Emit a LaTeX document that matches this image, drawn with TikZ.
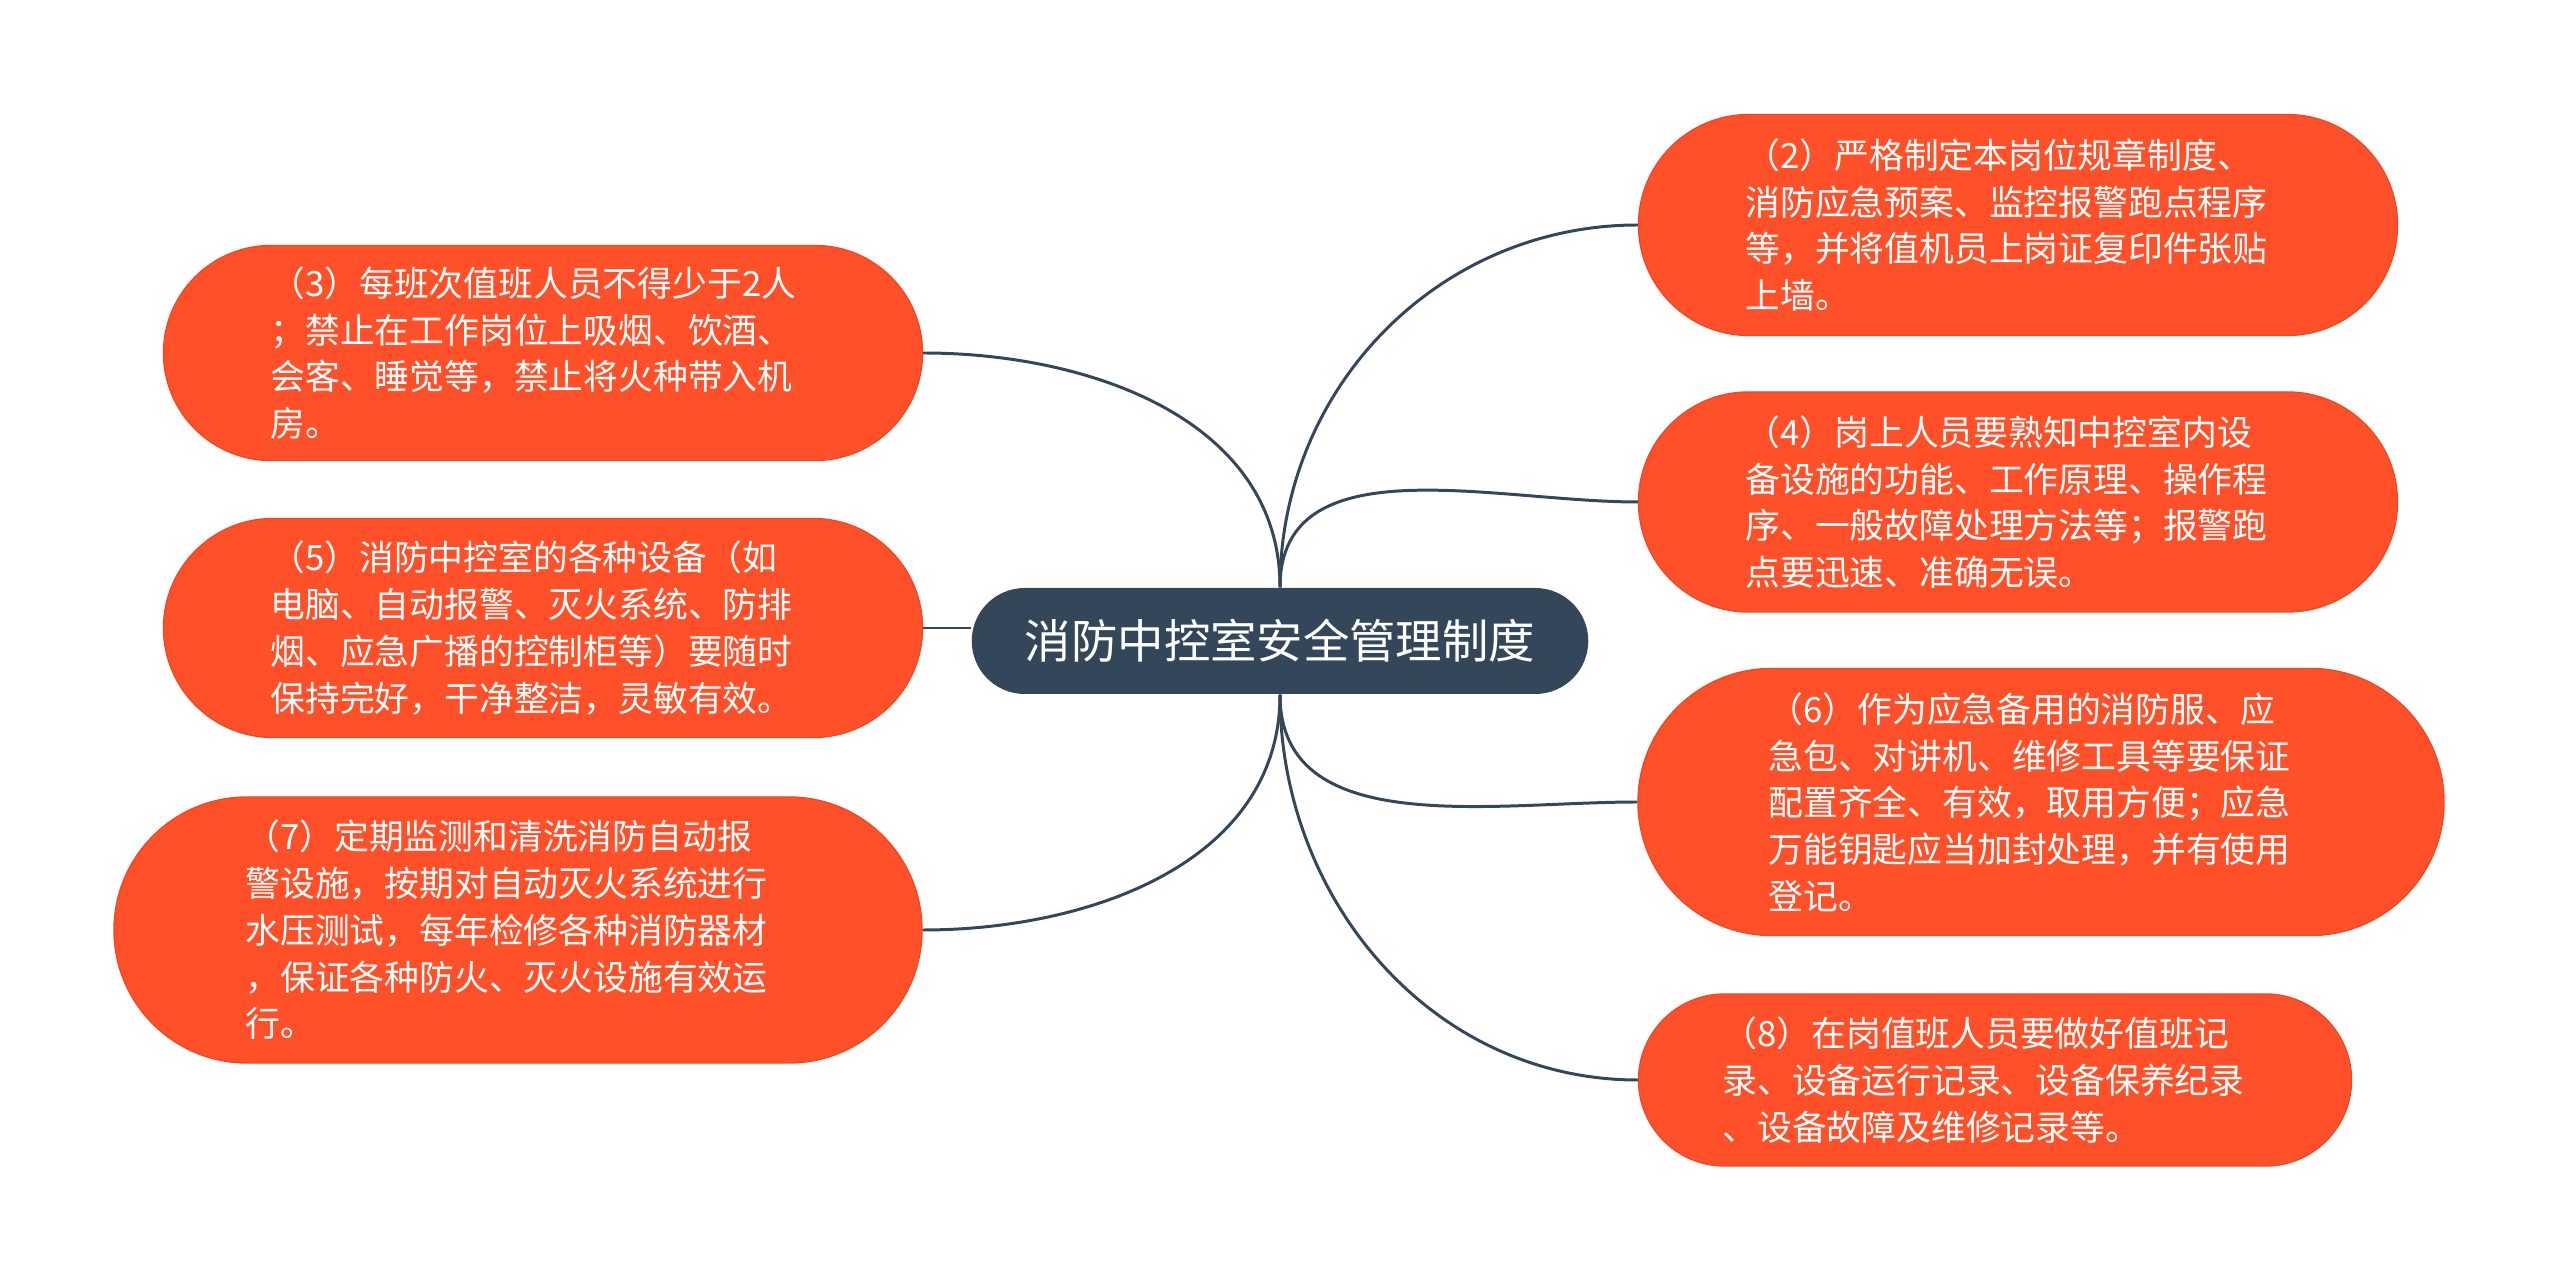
\documentclass[tikz,border=0pt]{standalone}
\usepackage{fontspec}
\usetikzlibrary{shapes.misc}
\newfontfamily\cjk{Noto Sans CJK SC}
\definecolor{leaforange}{HTML}{FF5029}
\definecolor{rootslate}{HTML}{34475A}

\begin{document}
\begin{tikzpicture}[
  leaf/.style={rounded rectangle, fill=leaforange, draw=leaforange!92!black, line width=0.4pt,
    text=white, align=left, text width=5.45cm, inner sep=0pt, font=\cjk\fontsize{9.9pt}{13.3pt}\selectfont},
  link/.style={rootslate, line width=0.85pt}]
  \useasboundingbox (0,0) rectangle (25.6,12.84);
  \node[rounded rectangle, fill=rootslate, text=white, minimum width=6.4cm, minimum height=1.06cm,
    font=\cjk\fontsize{13.2pt}{16pt}\selectfont] (root) at (12.8,6.43) {消防中控室安全管理制度};
  \node[leaf, minimum width=7.59cm, minimum height=2.15cm] (n3) at (5.43,9.31)
    {（3）每班次值班人员不得少于2人\\；禁止在工作岗位上吸烟、饮酒、\\会客、睡觉等，禁止将火种带入机\\房。};
  \node[leaf, minimum width=7.59cm, minimum height=2.19cm] (n5) at (5.43,6.56)
    {（5）消防中控室的各种设备（如\\电脑、自动报警、灭火系统、防排\\烟、应急广播的控制柜等）要随时\\保持完好，干净整洁，灵敏有效。};
  \node[leaf, minimum width=8.08cm, minimum height=2.66cm] (n7) at (5.18,3.54)
    {（7）定期监测和清洗消防自动报\\警设施，按期对自动灭火系统进行\\水压测试，每年检修各种消防器材\\，保证各种防火、灭火设施有效运\\行。};
  \node[leaf, minimum width=7.59cm, minimum height=2.21cm] (n2) at (20.18,10.59)
    {（2）严格制定本岗位规章制度、\\消防应急预案、监控报警跑点程序\\等，并将值机员上岗证复印件张贴\\上墙。};
  \node[leaf, minimum width=7.59cm, minimum height=2.2cm] (n4) at (20.18,7.82)
    {（4）岗上人员要熟知中控室内设\\备设施的功能、工作原理、操作程\\序、一般故障处理方法等；报警跑\\点要迅速、准确无误。};
  \node[leaf, minimum width=8.06cm, minimum height=2.67cm] (n6) at (20.41,4.82)
    {（6）作为应急备用的消防服、应\\急包、对讲机、维修工具等要保证\\配置齐全、有效，取用方便；应急\\万能钥匙应当加封处理，并有使用\\登记。};
  \node[leaf, minimum width=7.13cm, minimum height=1.72cm] (n8) at (19.95,2.04)
    {（8）在岗值班人员要做好值班记\\录、设备运行记录、设备保养纪录\\、设备故障及维修记录等。};
  \draw[link] (root.north) to[out=90, in=0] (n3.east);
  \draw[link] (n5.east -| root.west) -- (n5.east);
  \draw[link] (root.south) to[out=-90, in=0] (n7.east);
  \draw[link] (root.north) to[out=90, in=180] (n2.west);
  \draw[link] (root.north) to[out=90, in=180] (n4.west);
  \draw[link] (root.south) to[out=-90, in=180] (n6.west);
  \draw[link] (root.south) to[out=-90, in=180] (n8.west);
\end{tikzpicture}
\end{document}
